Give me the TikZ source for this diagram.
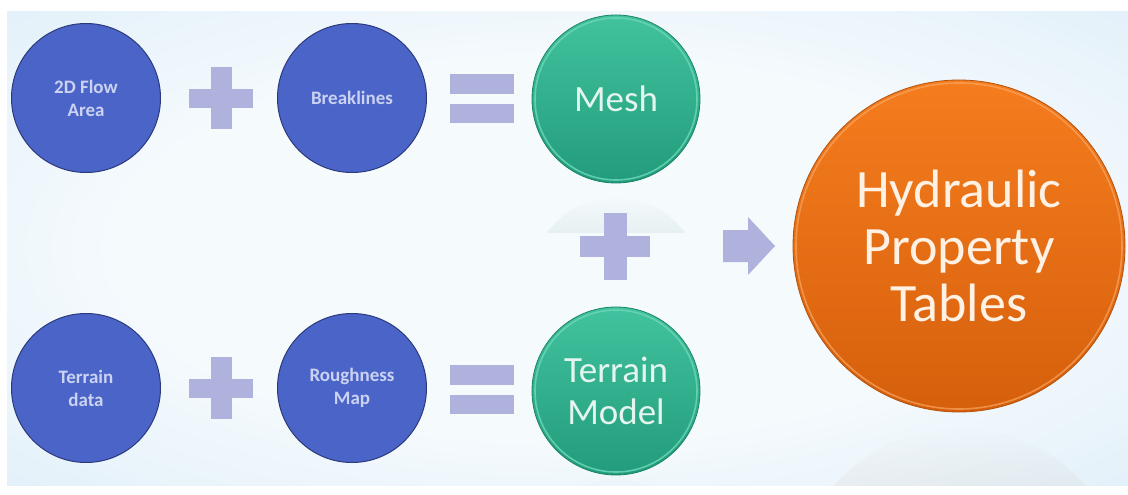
\documentclass[tikz,border=0pt]{standalone}
\usepackage{fontspec}
\setmainfont{Carlito}
\usetikzlibrary{fadings}
\definecolor{bgA}{HTML}{F5FAFD}
\definecolor{bgB}{HTML}{D8EBF8}
\definecolor{bgC}{HTML}{C3DEF3}
\definecolor{blueC}{HTML}{4A64C8}
\definecolor{blueD}{HTML}{2C3A7C}
\definecolor{blueT}{HTML}{CBD2F2}
\definecolor{symC}{HTML}{AEB2DD}
\definecolor{greenTop}{HTML}{42C29E}
\definecolor{greenBot}{HTML}{229C7C}
\definecolor{greenRim}{HTML}{6AD6B8}
\definecolor{greenD}{HTML}{1B8468}
\definecolor{greenT}{HTML}{E4F5EF}
\definecolor{orTop}{HTML}{F57D1E}
\definecolor{orBot}{HTML}{D65F0C}
\definecolor{orRim}{HTML}{F9A660}
\definecolor{orD}{HTML}{B2520E}
\definecolor{orT}{HTML}{FFF1E4}
\definecolor{reflG}{HTML}{B3CFCB}
\definecolor{reflO}{HTML}{D3C8BC}
\pgfdeclareradialshading{bgshade}{\pgfpoint{0bp}{0bp}}{color(0bp)=(bgA); color(20bp)=(bgA); color(45bp)=(bgB); color(71bp)=(bgC)}
\tikzset{
  bluecirc/.style={circle, draw=blueD, line width=1pt, fill=blueC, minimum size=149pt,
    inner sep=0pt, align=center, text=blueT, font=\fontsize{19}{23}\selectfont\bfseries},
  greencirc/.style={circle, draw=greenD, line width=0.8pt, top color=greenTop, bottom color=greenBot,
    minimum size=168pt, inner sep=0pt, align=center, text=greenT, font=\fontsize{37}{42}\selectfont},
  orangecirc/.style={circle, draw=orD, line width=0.8pt, top color=orTop, bottom color=orBot,
    minimum size=332pt, inner sep=0pt, align=center, text=orT, font=\fontsize{54}{57}\selectfont},
  symfill/.style={fill=symC},
  greenring/.style={draw=greenRim, line width=1.6pt, opacity=0.85},
  orangering/.style={draw=orRim, line width=1.6pt, opacity=0.7}
}
\begin{document}
\begin{tikzpicture}[x=1pt,y=-1pt]
\useasboundingbox (0,0) rectangle (1128,495);
\fill[white] (0,0) rectangle (1128,495);
% background
\shade[shading=bgshade] (7,12) rectangle (1128,485);
% reflections
\begin{scope}
  \clip (540,196) rectangle (700,232);
  \fill[reflG, path fading=north] (616,196) ++(0,85) circle (84);
\end{scope}
\begin{scope}
  \clip (540,478) rectangle (700,485);
  \fill[reflG, path fading=north] (616,478) ++(0,85) circle (84);
\end{scope}
\begin{scope}
  \clip (790,428) rectangle (1128,485);
  \fill[reflO, path fading=north] (960,428) ++(0,166) circle (166);
\end{scope}
% blue circles
\node[bluecirc] (flow) at (86,98) {2D Flow\\Area};
\node[bluecirc] (brk) at (352,98) {Breaklines};
\node[bluecirc] (terr) at (86,388) {Terrain\\data};
\node[bluecirc] (rough) at (352,388) {Roughness\\Map};
% green circles
\node[greencirc] (mesh) at (616,99) {Mesh};
\draw[greenring] (mesh.center) circle (81);
\node[greencirc] (tmod) at (616,391) {Terrain\\Model};
\draw[greenring] (tmod.center) circle (81);
% orange circle
\node[orangecirc] (hyd) at (959,246) {Hydraulic\\Property\\Tables};
\draw[orangering] (hyd.center) circle (163);
% plus signs
\fill[symfill] (211,67) rectangle (232,129);
\fill[symfill] (189,89) rectangle (253,108);
\fill[symfill] (211,357) rectangle (232,419);
\fill[symfill] (189,379) rectangle (253,398);
\fill[symfill] (604,213) rectangle (627,280);
\fill[symfill] (580,236) rectangle (650,257);
% equals signs
\fill[symfill] (450,74) rectangle (514,94);
\fill[symfill] (450,104) rectangle (514,123);
\fill[symfill] (450,365) rectangle (514,385);
\fill[symfill] (450,395) rectangle (514,414);
% block arrow
\fill[symfill] (723,230) -- (748,230) -- (748,217) -- (775,246) -- (748,275) -- (748,262) -- (723,262) -- cycle;
\end{tikzpicture}
\end{document}
